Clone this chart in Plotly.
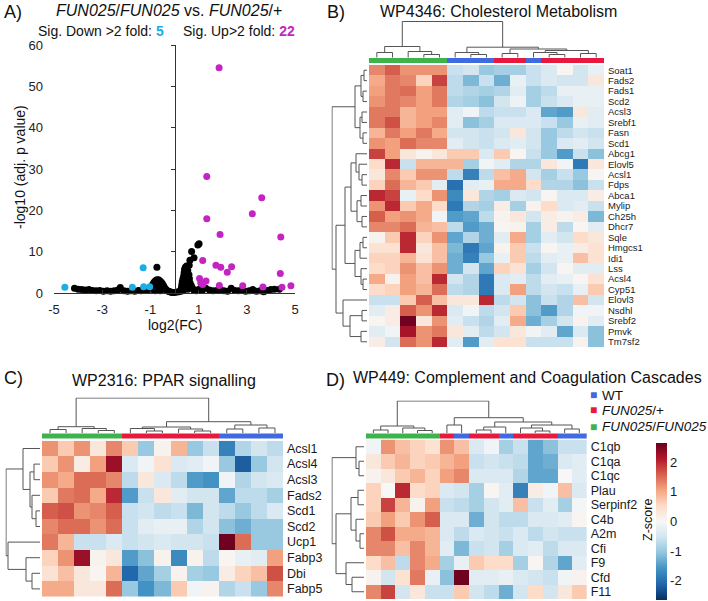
import plotly.graph_objects as go
from plotly.colors import diverging

W, H = 708, 601
FONT = "Arial, Liberation Sans, sans-serif"

# ---------------- A) volcano plot ----------------
black_x = [-4.15, -4.0, -3.85, -3.7, -3.55, -3.4, -3.25, -3.1, -2.95, -2.8, -2.65, -2.5, -2.35, -2.25,
           -2.1, -1.95, -1.8, -1.65, -1.5, -1.4, -1.3, -1.2, -1.1,
           -1.0, -0.95, -0.9, -0.85, -0.8, -0.75, -0.7, -0.65, -0.6, -0.55, -0.5, -0.45, -0.4, -0.35,
           -0.3, -0.25, -0.2, -0.15,
           -0.9, -0.8, -0.7, -0.6, -0.5, -0.7, -0.8, -0.6, -0.73,
           -0.1, 0.0, 0.1, 0.18,
           0.25, 0.28, 0.3, 0.32, 0.35, 0.38, 0.4, 0.42, 0.45, 0.5, 0.55, 0.6, 0.62, 0.65, 0.7, 0.75,
           0.8, 0.9, 0.45, 0.5, 0.55, 0.4, 0.5, 0.58, 0.35, 0.61, 0.64, 0.71, 0.81, 0.97, 1.02, 0.53,
           1.0, 1.15, 1.3, 1.45, 1.6, 1.75, 1.9, 2.05, 2.2, 2.35, 2.5, 2.65, 2.8, 2.95, 3.1, 3.25,
           3.4, 3.55, 3.7, 3.85, 4.0, 4.15, 4.35]
black_y = [1.2, 1.0, 0.9, 0.8, 0.9, 0.7, 0.6, 0.7, 0.5, 0.6, 0.5, 0.6, 0.8, 1.4,
           0.6, 0.5, 0.6, 0.5, 0.7, 0.6, 0.8, 0.7, 0.9,
           1.0, 1.6, 2.2, 2.7, 3.0, 3.2, 3.3, 3.2, 3.0, 2.7, 2.3, 1.8, 1.3, 0.9,
           0.6, 0.5, 0.4, 0.3,
           1.0, 1.6, 2.0, 1.5, 1.0, 0.8, 0.6, 0.6, 6.3,
           0.2, 0.2, 0.3, 0.4,
           0.5, 1.2, 2.0, 2.8, 3.5, 4.2, 5.0, 5.8, 6.3, 6.6, 5.5, 4.5, 3.5, 2.5, 1.8, 1.2,
           0.8, 0.6, 3.0, 2.0, 1.0, 1.0, 4.0, 3.0, 0.6, 6.8, 8.0, 10.1, 8.6, 11.7, 12.0, 4.9,
           0.9, 0.7, 1.2, 0.8, 0.6, 0.7, 0.9, 0.6, 0.5, 1.2, 0.7, 0.6, 0.8, 0.5, 0.6, 0.9,
           0.5, 0.6, 0.4, 0.7, 0.9, 1.0, 1.0]
down_x = [-4.55, -1.75, -1.3, -1.28, -1.03]
down_y = [1.45, 1.45, 6.2, 1.6, 1.6]
up_x = [1.85, 1.34, 1.34, 1.89, 1.17, 1.72, 1.92, 2.19, 2.37, 1.04, 1.31, 1.09, 1.17, 1.86,
        3.62, 3.23, 4.41, 4.39, 2.83, 3.67, 4.46, 4.83]
up_y = [54.5, 28.2, 18.0, 14.2, 7.9, 6.8, 6.3, 5.1, 6.4, 3.6, 3.0, 2.5, 2.1, 1.9,
        23.1, 19.2, 13.6, 4.8, 1.8, 1.5, 1.45, 1.8]
x_ticks = [-5, -3, -1, 1, 3, 5]
y_ticks = [0, 10, 20, 30, 40, 50, 60]

# ---------------- heatmap data ----------------
# sample groups: 0 = WT, 1 = FUN025/+, 2 = FUN025/FUN025
B_groups = [2, 2, 2, 2, 2, 0, 0, 0, 1, 1, 0, 1, 1, 1, 1]
B_genes = ["Soat1", "Fads2", "Fads1", "Scd2", "Acsl3", "Srebf1", "Fasn", "Scd1", "Abcg1", "Elovl5",
           "Acsl1", "Fdps", "Abca1", "Mylip", "Ch25h", "Dhcr7", "Sqle", "Hmgcs1", "Idi1", "Lss",
           "Acsl4", "Cyp51", "Elovl3", "Nsdhl", "Srebf2", "Pmvk", "Tm7sf2"]
B_z = [
    [1.3, 1.6, 1.2, 1.2, 1.2, -0.6, -0.5, -1.0, -0.9, -0.9, -0.6, -0.4, 0.05, -0.5, -0.2],
    [1.0, 1.4, 1.3, 0.6, 1.8, -0.7, -1.2, -0.6, -1.3, -0.2, -0.6, -0.4, -0.5, -0.5, 0.3],
    [1.1, 1.4, 1.5, 1.1, 1.4, -0.7, -0.8, -0.9, -0.8, -0.3, -0.9, -0.7, -0.2, -0.2, -0.2],
    [1.2, 1.4, 1.3, 1.1, 1.4, -0.8, -0.9, -1.1, -0.5, -0.15, -0.9, -0.6, -0.4, -0.2, -0.2],
    [1.4, 1.4, 0.9, 1.1, 1.1, -0.3, -0.1, -0.7, -0.6, -0.6, -0.4, -1.4, -1.5, 0.3, -0.3],
    [1.4, 1.7, 0.9, 1.1, 1.3, -0.3, -1.1, -0.9, -0.4, -0.4, -0.4, -0.6, -1.0, -0.2, -0.3],
    [0.9, 1.4, 1.1, 1.4, 1.0, -0.5, -0.5, -0.6, -0.5, 0.3, -0.5, -1.0, -0.7, -0.5, -0.6],
    [1.2, 1.1, 1.5, 1.3, 1.3, -0.3, -0.5, -0.6, -0.4, -0.3, -0.5, -1.0, -0.4, -0.3, -0.5],
    [1.8, 1.1, 0.3, 0.1, 0.3, 0.7, 0.7, -0.4, 0.7, 0.05, -0.6, -1.0, -1.5, -0.6, -1.1],
    [0.5, 2.0, -0.6, 0.9, 0.9, 0.9, -0.9, -0.1, -0.3, -0.8, -0.8, 0.3, -0.1, -1.9, 0.3],
    [0.3, 1.3, 0.7, 1.2, 1.2, -0.7, -1.8, -0.7, 0.8, 1.0, -0.5, -0.9, -0.6, -1.0, 0.05],
    [0.6, 1.5, 0.9, 0.7, -0.3, -2.0, -0.3, -0.2, 1.0, 1.0, 0.5, -0.8, -0.8, -1.1, -0.6],
    [2.0, 1.8, -0.2, 0.5, 1.2, -1.7, 0.3, -0.8, -0.9, -0.4, -0.5, 0.05, -0.4, -0.4, 0.2],
    [1.2, 2.0, 0.7, 1.0, 0.5, -1.9, -0.8, -0.9, 0.2, -0.9, 0.1, 0.5, -0.4, -0.3, -0.6],
    [1.6, 1.1, 1.2, 1.0, -0.1, -1.5, -1.4, -0.7, 0.1, 0.3, -0.5, 0.2, 0.1, 0.2, -1.2],
    [1.3, 1.3, 1.5, 0.9, 0.8, -0.7, -1.5, -1.3, 0.05, 0.1, -0.9, 0.2, -0.7, 0.05, -0.3],
    [0.1, 0.7, 2.0, 0.6, 1.2, -1.4, -0.8, -1.3, -0.3, 1.0, -0.9, -0.3, -0.5, 0.5, 0.3],
    [0.4, 0.4, 2.0, 0.3, 0.8, -1.2, -1.9, -1.4, 0.1, 0.7, -0.6, 0.05, -0.2, 0.2, 0.4],
    [0.6, 0.6, 0.9, 0.4, 0.8, -1.3, -1.8, -1.0, -0.2, 0.7, -0.7, -0.3, -0.2, 0.8, 0.4],
    [0.5, 0.6, 1.2, 0.8, 1.2, -1.3, -0.5, -1.4, 0.6, 0.4, -0.9, -0.5, 0.05, -0.3, -0.3],
    [1.0, 0.1, 1.1, 0.8, 2.0, -0.5, -0.8, -1.9, -0.4, -0.3, -0.7, -0.3, -0.2, 0.05, 0.4],
    [0.5, 0.6, 1.1, 0.9, 1.5, -0.7, -0.8, -1.9, -0.4, 1.1, -0.7, -0.5, -0.6, -0.2, 0.7],
    [-0.6, -0.6, 0.7, 1.6, 0.8, 0.3, 0.3, 2.0, -0.7, -0.5, -1.1, -0.6, -0.8, 0.8, -0.5],
    [-0.3, 0.2, 1.6, 1.2, 2.0, -0.4, -0.1, -0.7, -0.5, 0.7, -1.1, -1.5, -0.8, -0.1, -0.1],
    [0.05, 0.2, 2.6, 0.3, 1.2, -0.3, -0.6, -0.8, -0.3, 1.0, -1.3, -0.9, -0.5, 0.1, -0.3],
    [-0.3, -0.1, 2.2, 1.2, 1.4, 0.3, -0.3, -0.7, -0.5, 0.3, -0.1, -0.3, -1.4, -0.4, -1.1],
    [0.2, -0.5, 1.5, 1.2, 2.0, -0.3, -1.5, -0.3, 0.4, 0.4, -0.6, -0.6, -0.6, 0.1, -1.1],
]

C_groups = [2, 2, 2, 2, 2, 1, 1, 1, 1, 1, 1, 0, 0, 0, 0]
C_genes = ["Acsl1", "Acsl4", "Acsl3", "Fads2", "Scd1", "Scd2", "Ucp1", "Fabp3", "Dbi", "Fabp5"]
C_z = [
    [1.2, 0.7, 1.2, 0.3, 1.3, 0.7, -1.0, 0.1, 0.9, -1.0, -0.6, -1.8, -0.8, -0.5, -0.7],
    [0.7, 1.2, 0.2, 1.1, 2.3, -0.4, -0.1, 0.4, -0.4, -0.3, -0.1, -1.0, -2.2, -1.0, -0.5],
    [1.2, 1.0, 1.5, 1.5, 1.3, -0.7, 0.3, -0.4, -0.7, -1.5, -1.6, -0.1, -0.8, -0.5, -0.4],
    [0.7, 1.4, 1.5, 1.0, 2.0, -1.5, -0.6, 0.3, -0.3, -0.5, -0.5, -1.4, -0.7, -0.7, -0.9],
    [1.6, 1.7, 1.2, 1.3, 1.6, -0.6, -0.5, -0.7, -0.6, -1.2, -0.5, -0.7, -1.0, -0.7, -0.4],
    [1.3, 1.5, 1.5, 1.2, 1.5, -0.6, -0.3, -0.2, -0.2, -0.8, -0.5, -1.1, -1.3, -1.0, -1.0],
    [1.4, 0.9, -0.6, -0.6, -0.4, -0.6, -0.5, -0.4, -0.5, -0.5, -0.6, 2.6, 1.5, -1.0, -1.0],
    [0.6, 1.2, 2.3, 0.1, 0.3, -1.5, -1.1, 0.1, -1.7, 0.1, -0.7, 0.05, -0.2, -0.3, 1.1],
    [0.4, 0.8, 0.3, 0.05, 0.9, -2.1, -1.4, -0.9, 0.1, -0.9, -1.0, 0.2, 0.6, 0.8, 1.7],
    [1.0, 1.0, 0.3, 0.3, 1.5, -1.0, -1.6, -1.2, 0.7, -0.1, 0.1, -0.8, -0.6, -1.0, 1.3],
]

D_groups = [2, 2, 2, 2, 2, 1, 0, 1, 1, 0, 1, 1, 1, 0, 0]
D_genes = ["C1qb", "C1qa", "C1qc", "Plau", "Serpinf2", "C4b", "A2m", "Cfi", "F9", "Cfd", "F11"]
D_z = [
    [-0.1, 1.2, 0.8, 0.6, 0.4, 1.2, 0.8, -0.4, -0.1, -0.9, -0.6, -1.4, -1.1, -0.6, -0.6],
    [0.3, 0.7, 0.9, 0.6, 0.7, 0.9, 1.1, -0.6, -0.5, -0.6, -0.7, -1.4, -1.3, -0.4, -0.3],
    [0.1, 0.3, 0.7, 0.9, 0.6, 1.1, 1.3, -0.4, -0.4, -0.4, -0.8, -1.4, -1.4, 0.0, -0.3],
    [0.6, 0.0, 2.0, 0.5, 0.6, -0.4, -0.5, -0.9, 0.05, -0.3, -1.8, 0.2, -0.1, 0.8, -0.4],
    [0.6, 1.8, 0.9, 0.1, 1.1, -0.6, -0.7, -0.9, -0.5, -0.3, 0.8, -0.6, -0.3, -0.9, -0.05],
    [0.7, 1.1, 0.7, 1.2, 1.6, -0.4, -0.4, -1.3, -0.5, -0.7, -0.7, -0.4, -0.4, -0.3, 0.05],
    [1.3, 1.7, 1.0, 1.0, 0.9, -0.4, -0.7, -0.4, -0.5, -0.6, -0.4, -0.7, -0.5, -0.6, -0.6],
    [1.3, 1.3, 0.8, 1.3, 0.9, -0.3, -1.2, -0.6, -0.5, -0.9, -0.4, -0.3, -0.7, -0.4, -0.4],
    [0.5, 0.8, -0.7, 1.3, 1.0, -0.9, -0.2, 0.7, 0.5, 0.5, -0.9, 0.05, -0.8, -1.4, -0.3],
    [0.1, -0.5, 0.4, 1.4, -0.2, -1.1, 2.6, -0.3, -0.3, -0.2, -0.4, -0.5, -0.6, -0.1, 0.1],
    [1.3, 1.8, -0.5, 0.3, -0.6, -0.6, 0.7, -0.5, -0.7, -1.3, -0.5, 0.5, -0.5, 0.3, 0.7],
]

# cluster trees: leaf = index, node = [height, left, right]
B_col_tree = [36, [11, [5, 0, 1], [6, 2, [3, 3, 4]]],
              [10.3, [5, 5, [3, 6, 7]], [8.5, [4, 8, 9], [7, [5, 10, [3, 11, 12]], [4, 13, 14]]]]]
B_row_tree = [35, [12, [6, [3, 0, 1], [4, 2, 3]], [7, [5, 4, 5], [4, 6, 7]]],
              [31, [22, [16, [11, 8, [8, 9, [5, 10, 11]]], [10, [6, 12, 13], [5, 14, 15]]],
                    [12, [7, [4, 16, 17], 18], [6, 19, [4, 20, 21]]]],
               [24, 22, [17, [5, 23, 24], [6, 25, 26]]]]]
C_col_tree = [35, [6.3, [3.5, 0, 1], [4.5, 2, [2.5, 3, 4]]],
              [11.3, [6, [4.5, 5, [2, 6, 7]], [4, 8, [2, 9, 10]]], [8, [4, 11, 12], [5, 13, 14]]]]
C_row_tree = [34, [17, 0, [10, [6, 1, 2], [8, 3, [4, 4, 5]]]], [32, 6, [14, 7, [8, 8, 9]]]]
D_col_tree = [32, [7, [3, 0, 1], [5, 2, [2.5, 3, 4]]],
              [15.3, [8, 5, 6], [11, [6, [3, 7, 8], 9], [8, [5, 10, [2, 11, 12]], [4, 13, 14]]]]]
D_row_tree = [32, [8, 0, [5, 1, 2]], [28, [13, [6, 3, 4], [8, 5, [4, 6, 7]]], [18, 8, [12, 9, 10]]]]

C_WT, C_HET, C_HOM = "#4169e1", "#e8193c", "#3cb44b"
GROUP_SCALE = [[0, C_WT], [0.33, C_WT], [0.33, C_HET], [0.67, C_HET], [0.67, C_HOM], [1, C_HOM]]
rdbu = diverging.RdBu_r
HEAT_SCALE = [[i / (len(rdbu) - 1), c] for i, c in enumerate(rdbu)]
ZLIM = 2.65

fig = go.Figure()
lay = {}
count = [0]


def add_axes(left, right, top, bottom, xr=None, yr=None):
    # box given in pixels of the 708x601 page
    count[0] += 1
    s = "" if count[0] == 1 else str(count[0])
    lay["xaxis" + s] = dict(domain=[left / W, right / W], anchor="y" + s, range=xr, automargin=False,
                            visible=False, showgrid=False, zeroline=False, fixedrange=True)
    lay["yaxis" + s] = dict(domain=[1 - bottom / H, 1 - top / H], anchor="x" + s, range=yr, automargin=False,
                            visible=False, showgrid=False, zeroline=False, fixedrange=True)
    return "x" + s, "y" + s, s


def tree_lines(node, pos, hgt):
    if isinstance(node, int):
        return node, 0.0
    h, a, b = node
    pa, ha = tree_lines(a, pos, hgt)
    pb, hb = tree_lines(b, pos, hgt)
    pos += [pa, pa, pb, pb, None]
    hgt += [ha, h, h, hb, None]
    return (pa + pb) / 2, h


def heat_panel(genes, z, groups, col_tree, row_tree, box, bar, label_size, scale=False):
    left, right, top, bottom = box
    ncol, nrow = len(groups), len(genes)
    xr, yr = [-0.5, ncol - 0.5], [nrow - 0.5, -0.5]
    cols, rows = list(range(ncol)), list(range(nrow))

    xa, ya, s = add_axes(left, right, top, bottom, xr, yr)
    lay["yaxis" + s].update(visible=True, side="right", tickmode="array", tickvals=rows,
                            ticktext=genes, ticks="", showline=False, ticklabelstandoff=3,
                            tickfont=dict(size=label_size, color="#1a1a1a"))
    hm = go.Heatmap(z=z, x=cols, y=rows, colorscale=HEAT_SCALE, zmin=-ZLIM, zmax=ZLIM,
                    showscale=scale, xaxis=xa, yaxis=ya)
    if scale:
        hm.colorbar = dict(x=656 / W, xanchor="left", y=1 - 521.5 / H, yanchor="middle",
                           len=157, lenmode="pixels", thickness=11, outlinewidth=0,
                           xpad=0, ypad=0, ticks="", tickvals=[-2, -1, 0, 1, 2],
                           ticktext=["-2", "-1", "0", "1", "2"],
                           tickfont=dict(size=13, color="#1a1a1a"))
    fig.add_trace(hm)

    xa, ya, s = add_axes(left, right, bar[0], bar[1], xr, [-0.5, 0.5])
    fig.add_trace(go.Heatmap(z=[groups], x=cols, y=[0], colorscale=GROUP_SCALE, zmin=0, zmax=2,
                             showscale=False, hoverinfo="skip", xaxis=xa, yaxis=ya))

    p, hh = [], []
    _, root = tree_lines(col_tree, p, hh)
    xa, ya, s = add_axes(left, right, bar[0] - root - 0.5, bar[0] + 0.5, xr, [-0.5, root + 0.5])
    fig.add_trace(go.Scatter(x=p, y=hh, mode="lines", line=dict(color="#555", width=1),
                             hoverinfo="skip", xaxis=xa, yaxis=ya))

    p, hh = [], []
    _, root = tree_lines(row_tree, p, hh)
    gap = 2
    xa, ya, s = add_axes(left - gap - root - 0.5, left - gap + 0.5, top, bottom,
                         [root + 0.5, -0.5], yr)
    fig.add_trace(go.Scatter(x=hh, y=p, mode="lines", line=dict(color="#555", width=1),
                             hoverinfo="skip", xaxis=xa, yaxis=ya))


# volcano axes
xa, ya, s = add_axes(54, 295, 45, 293.3, [-5, 5], [0, 60])
lay["xaxis"].update(visible=True, showline=True, linecolor="#333", linewidth=1, ticks="inside",
                    ticklen=3, tickcolor="#333", tickvals=x_ticks, ticktext=[str(v) for v in x_ticks],
                    ticklabelstandoff=4, tickfont=dict(size=13, color="#222"))
lay["yaxis"].update(visible=True, showline=False, ticks="", tickvals=y_ticks,
                    ticklabelstandoff=10, tickfont=dict(size=13, color="#222"))
fig.add_trace(go.Scatter(x=black_x, y=black_y, mode="markers", cliponaxis=False,
                         marker=dict(color="black", size=7), xaxis=xa, yaxis=ya))
fig.add_trace(go.Scatter(x=down_x, y=down_y, mode="markers", cliponaxis=False,
                         marker=dict(color="#1aaee5", size=7), xaxis=xa, yaxis=ya))
fig.add_trace(go.Scatter(x=up_x, y=up_y, mode="markers", cliponaxis=False,
                         marker=dict(color="#c424c4", size=7), xaxis=xa, yaxis=ya))

heat_panel(B_genes, B_z, B_groups, B_col_tree, B_row_tree, (369, 604, 65, 347), (57.5, 63), 9.5)
heat_panel(C_genes, C_z, C_groups, C_col_tree, C_row_tree, (42, 283, 440.7, 596.7), (433, 438.5), 12.5)
heat_panel(D_genes, D_z, D_groups, D_col_tree, D_row_tree, (366, 586.7, 439.5, 599), (433, 438.5), 12.5,
           scale=True)

# vertical zero line of the volcano plot with its ticks
zi = str(count[0] + 1)
lay["yaxis" + zi] = dict(overlaying="y", anchor="free", position=174.5 / W, range=[0, 60], side="left",
                         showline=True, linecolor="#333", linewidth=1, ticks="outside", ticklen=4,
                         tickcolor="#333", tickvals=y_ticks, showticklabels=False, showgrid=False,
                         zeroline=False, fixedrange=True, automargin=False)
fig.add_trace(go.Scatter(x=[None], y=[None], mode="markers", xaxis="x", yaxis="y" + zi))


def ann(text, x, y, size, xanchor="center", angle=0, color="#111"):
    return dict(text=text, x=x / W, y=1 - y / H, xref="paper", yref="paper", xanchor=xanchor,
                yanchor="middle", showarrow=False, textangle=angle,
                font=dict(size=size, color=color, family=FONT))


annotations = [
    ann("A)", 2, 12, 18, "left"),
    ann("<i>FUN025</i>/<i>FUN025</i> vs. <i>FUN025</i>/+", 169, 11, 16),
    ann("Sig. Down >2 fold: <b><span style='color:#1aaee5'>5</span></b>", 101, 31, 14),
    ann("Sig. Up>2 fold: <b><span style='color:#c424c4'>22</span></b>", 238.5, 31, 14),
    ann("-log10 (adj. p value)", 20, 167, 14, angle=-90),
    ann("log2(FC)", 175, 325, 14),
    ann("B)", 325, 12, 18, "left"),
    ann("WP4346: Cholesterol Metabolism", 498, 12, 16),
    ann("C)", 2, 378, 18, "left"),
    ann("WP2316: PPAR signalling", 164, 380, 16),
    ann("D)", 324, 380, 18, "left"),
    ann("WP449: Complement and Coagulation Cascades", 527.5, 377.5, 16),
    ann("Z-score", 648, 520, 12.5, angle=-90),
]
legend_items = [("WT", C_WT, 395), ("<i>FUN025</i>/+", C_HET, 410.5), ("<i>FUN025</i>/<i>FUN025</i>", C_HOM, 426.5)]
for label, color, yy in legend_items:
    annotations.append(ann("■", 587.5, yy, 12, "left", color=color))
    annotations.append(ann(label, 600, yy, 13.5, "left"))

fig.update_layout(**lay)
fig.update_layout(template="none", width=W, height=H, margin=dict(l=0, r=0, t=0, b=0), showlegend=False,
                  paper_bgcolor="white", plot_bgcolor="white", font=dict(family=FONT, color="#111"),
                  annotations=annotations)

fig.write_html("out.html", config={"displayModeBar": False},
               post_script="document.body.style.margin='0';")
